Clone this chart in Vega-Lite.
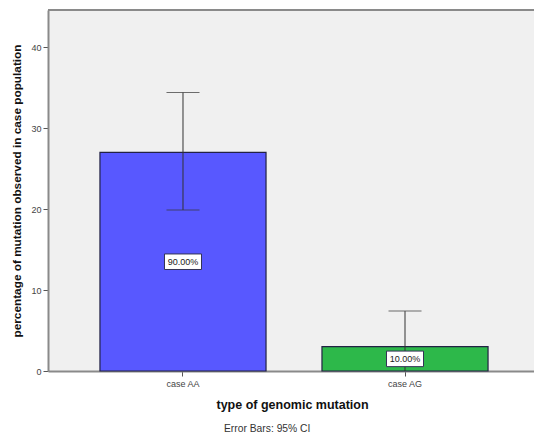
{
  "$schema": "https://vega.github.io/schema/vega-lite/v6.json",
  "width": 492,
  "height": 361,
  "autosize": "none",
  "padding": {"left": 48, "top": 10, "right": 0, "bottom": 70},
  "background": "white",
  "config": {
    "view": {"fill": "#f0f0f0", "stroke": null},
    "font": "Liberation Sans",
    "axis": {
      "labelFont": "Liberation Sans",
      "labelFontSize": 9,
      "labelColor": "#444444",
      "tickColor": "#555555",
      "tickSize": 5,
      "domainColor": "#8a8a8a",
      "domainWidth": 2,
      "titleFont": "Liberation Sans",
      "titleFontWeight": "bold",
      "titleColor": "#111111",
      "grid": false
    }
  },
  "title": {
    "text": "Error Bars: 95% CI",
    "orient": "bottom",
    "anchor": "start",
    "dx": 212,
    "fontSize": 10.3,
    "fontWeight": "normal",
    "color": "#333333",
    "font": "Liberation Sans",
    "offset": 13
  },
  "data": {
    "values": [
      {"type": "case AA", "value": 27.0, "lo": 19.9, "hi": 34.4, "label": "90.00%"},
      {"type": "case AG", "value": 3.0, "lo": -1.4, "hi": 7.4, "label": "10.00%"}
    ]
  },
  "layer": [
    {
      "mark": {"type": "bar", "stroke": "#222244", "strokeWidth": 1.2},
      "encoding": {
        "x": {
          "field": "type",
          "type": "nominal",
          "scale": {"paddingInner": 0.252, "paddingOuter": 0.234},
          "axis": {"labelAngle": 0, "title": "type of genomic mutation", "titleFontSize": 12.5, "titlePadding": 10, "labelPadding": 3, "titleAnchor": "start", "titleX": 168}
        },
        "y": {
          "field": "value",
          "type": "quantitative",
          "scale": {"domain": [0, 44.6], "nice": false},
          "axis": {"values": [0, 10, 20, 30, 40], "title": "percentage of mutation observed in case population", "titleFontSize": 11.8, "titlePadding": 8, "labelPadding": 2}
        },
        "color": {
          "field": "type",
          "type": "nominal",
          "scale": {"domain": ["case AA", "case AG"], "range": ["#5858ff", "#2db84a"]},
          "legend": null
        }
      }
    },
    {
      "mark": {"type": "rule", "color": "#8a8a8a", "strokeWidth": 2},
      "encoding": {"y": {"datum": 44.6, "type": "quantitative"}}
    },
    {
      "mark": {"type": "rule", "color": "#333333", "strokeWidth": 1, "clip": true},
      "encoding": {
        "x": {"field": "type", "type": "nominal"},
        "y": {"field": "lo", "type": "quantitative"},
        "y2": {"field": "hi"}
      }
    },
    {
      "mark": {"type": "tick", "color": "#333333", "thickness": 1, "size": 33, "clip": true},
      "encoding": {
        "x": {"field": "type", "type": "nominal"},
        "y": {"field": "hi", "type": "quantitative"}
      }
    },
    {
      "mark": {"type": "tick", "color": "#333333", "thickness": 1, "size": 33, "clip": true},
      "encoding": {
        "x": {"field": "type", "type": "nominal"},
        "y": {"field": "lo", "type": "quantitative"}
      }
    },
    {
      "transform": [{"calculate": "datum.value / 2", "as": "mid"}],
      "mark": {"type": "point", "shape": "M -1 -0.42 L 1 -0.42 L 1 0.42 L -1 0.42 Z", "size": 1369, "filled": true, "fill": "white", "stroke": "#333355", "strokeWidth": 1, "opacity": 1},
      "encoding": {
        "x": {"field": "type", "type": "nominal"},
        "y": {"field": "mid", "type": "quantitative"}
      }
    },
    {
      "transform": [{"calculate": "datum.value / 2", "as": "mid"}],
      "mark": {"type": "text", "fontSize": 9, "color": "#222222", "font": "Liberation Sans"},
      "encoding": {
        "x": {"field": "type", "type": "nominal"},
        "y": {"field": "mid", "type": "quantitative"},
        "text": {"field": "label"}
      }
    }
  ]
}
